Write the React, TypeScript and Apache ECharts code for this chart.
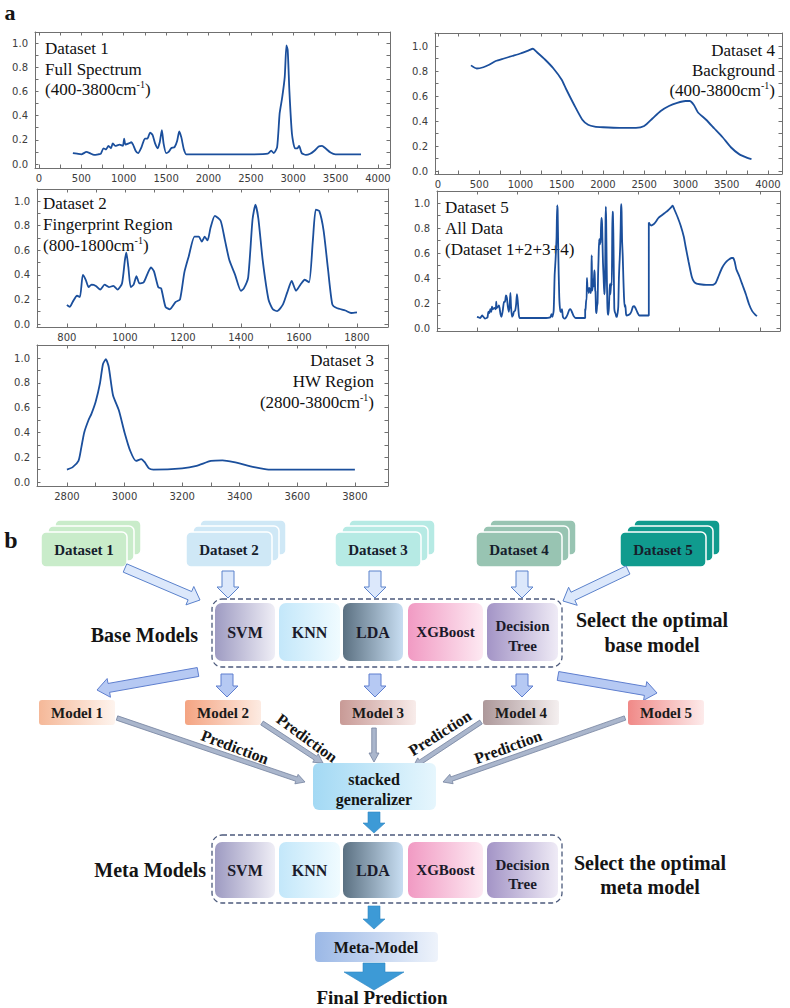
import React, { useEffect, useRef } from "react";
import * as echarts from "echarts";

// ---------------- DATA ----------------
const dataset1: [number, number][] = [
  [400, 0.09], [450, 0.085], [500, 0.08], [560, 0.1], [600, 0.09], [650, 0.075], [700, 0.08], [730, 0.085],
  [760, 0.13], [790, 0.12], [820, 0.15], [850, 0.13], [870, 0.17], [900, 0.15], [950, 0.16], [990, 0.15],
  [1005, 0.21], [1020, 0.16], [1060, 0.17], [1090, 0.18], [1110, 0.16], [1140, 0.11], [1170, 0.09], [1210, 0.14],
  [1250, 0.21], [1280, 0.21], [1310, 0.26], [1340, 0.24], [1370, 0.17], [1400, 0.13], [1425, 0.18], [1450, 0.28],
  [1470, 0.17], [1500, 0.09], [1530, 0.1], [1560, 0.13], [1600, 0.14], [1630, 0.19], [1655, 0.27], [1680, 0.22],
  [1710, 0.12], [1740, 0.08], [2000, 0.08], [2500, 0.08], [2700, 0.085], [2740, 0.11], [2770, 0.09], [2810, 0.14],
  [2840, 0.42], [2870, 0.55], [2900, 0.72], [2920, 0.98], [2935, 0.94], [2955, 0.6], [2985, 0.25], [3020, 0.13],
  [3050, 0.13], [3070, 0.15], [3100, 0.09], [3150, 0.075], [3200, 0.085], [3250, 0.11], [3300, 0.145], [3340, 0.15],
  [3380, 0.13], [3440, 0.095], [3500, 0.08], [3800, 0.08],
];

const dataset2: [number, number][] = [
  [800, 0.155], [810, 0.14], [820, 0.18], [835, 0.23], [845, 0.22], [855, 0.4], [865, 0.36], [875, 0.3],
  [885, 0.32], [900, 0.31], [915, 0.28], [930, 0.32], [945, 0.3], [960, 0.31], [975, 0.28], [990, 0.33],
  [1000, 0.52], [1005, 0.58], [1012, 0.46], [1020, 0.3], [1030, 0.32], [1040, 0.39], [1050, 0.33], [1065, 0.34],
  [1080, 0.42], [1090, 0.46], [1100, 0.43], [1115, 0.3], [1125, 0.29], [1140, 0.14], [1155, 0.12], [1175, 0.18],
  [1190, 0.2], [1205, 0.42], [1220, 0.55], [1240, 0.71], [1255, 0.71], [1265, 0.67], [1275, 0.71], [1285, 0.68],
  [1295, 0.78], [1310, 0.88], [1330, 0.84], [1345, 0.68], [1360, 0.52], [1380, 0.4], [1400, 0.27], [1410, 0.29],
  [1425, 0.38], [1440, 0.85], [1450, 0.97], [1460, 0.86], [1475, 0.52], [1495, 0.2], [1510, 0.12], [1525, 0.105],
  [1545, 0.16], [1560, 0.26], [1575, 0.35], [1590, 0.27], [1605, 0.32], [1620, 0.36], [1635, 0.34], [1648, 0.68],
  [1658, 0.93], [1670, 0.92], [1685, 0.76], [1700, 0.45], [1715, 0.16], [1730, 0.13], [1760, 0.11], [1780, 0.09],
  [1800, 0.095],
];

const dataset3: [number, number][] = [
  [2800, 0.1], [2820, 0.12], [2840, 0.17], [2850, 0.28], [2860, 0.4], [2875, 0.5], [2885, 0.55], [2900, 0.65],
  [2915, 0.8], [2925, 0.95], [2935, 0.99], [2945, 0.93], [2960, 0.7], [2980, 0.58], [3000, 0.4], [3020, 0.25],
  [3040, 0.17], [3058, 0.185], [3070, 0.16], [3085, 0.11], [3100, 0.1], [3200, 0.11], [3250, 0.13], [3300, 0.17],
  [3340, 0.175], [3380, 0.16], [3450, 0.12], [3500, 0.1], [3800, 0.1],
];

const dataset4: [number, number][] = [
  [400, 0.845], [470, 0.82], [550, 0.83], [620, 0.85], [700, 0.88], [800, 0.9], [900, 0.92], [1000, 0.94],
  [1100, 0.965], [1150, 0.978], [1200, 0.95], [1300, 0.89], [1400, 0.82], [1500, 0.73], [1550, 0.66], [1650, 0.53],
  [1750, 0.41], [1820, 0.37], [1900, 0.355], [2000, 0.35], [2200, 0.345], [2400, 0.345], [2500, 0.36], [2600, 0.42],
  [2700, 0.48], [2800, 0.52], [2900, 0.545], [3000, 0.56], [3050, 0.56], [3100, 0.53], [3150, 0.47], [3250, 0.41],
  [3350, 0.34], [3450, 0.27], [3550, 0.19], [3650, 0.135], [3750, 0.105], [3800, 0.095],
];

// Dataset 5 = Dataset 1 + 2 + 3 + 4 joined end to end (index axis)
const dataset5: [number, number][] = [
  ...dataset1.map(([x, y]) => [x - 400, y] as [number, number]),
  ...dataset2.map(([x, y]) => [x - 800 + 3400, y] as [number, number]),
  ...dataset3.map(([x, y]) => [x - 2800 + 4400, y] as [number, number]),
  ...dataset4.map(([x, y]) => [x - 400 + 5400, y] as [number, number]),
];

// tick labels / tick positions
const xLabelsFull = [0, 500, 1000, 1500, 2000, 2500, 3000, 3500, 4000];
const xTicksFull = [0, 250, 500, 750, 1000, 1250, 1500, 1750, 2000, 2250, 2500, 2750, 3000, 3250, 3500, 3750, 4000];
const xLabelsFinger = [800, 1000, 1200, 1400, 1600, 1800];
const xTicksFinger = [800, 900, 1000, 1100, 1200, 1300, 1400, 1500, 1600, 1700, 1800];
const xLabelsHW = [2800, 3000, 3200, 3400, 3600, 3800];
const xTicksHW = [2800, 2900, 3000, 3100, 3200, 3300, 3400, 3500, 3600, 3700, 3800];
const xTicksAll = [-1270, 0, 1270, 2540, 3810, 5080, 6350, 7620, 8890];
const yLabels = [0, 0.2, 0.4, 0.6, 0.8, 1.0];
const yTicks = [0, 0.1, 0.2, 0.3, 0.4, 0.5, 0.6, 0.7, 0.8, 0.9, 1.0];

// panel b texts
const datasetNames = ["Dataset 1", "Dataset 2", "Dataset 3", "Dataset 4", "Dataset 5"];
const modelNames = ["Model 1", "Model 2", "Model 3", "Model 4", "Model 5"];
const learnerNames = ["SVM", "KNN", "LDA", "XGBoost", "Decision\nTree"];

// ---------------- STYLE / LAYOUT ----------------
const SERIF = "'Liberation Serif', 'Times New Roman', serif";
const AXC = "#707070";
const LINEC = "#1b4f9c";

const panels = [
  { data: dataset1, left: 35, top: 32, width: 355, height: 136, x: [-47, 4142], y: [-0.033, 1.091], xl: xLabelsFull, xt: xTicksFull, showX: true },
  { data: dataset2, left: 37, top: 189, width: 351, height: 138, x: [697, 1907], y: [-0.024, 1.098], xl: xLabelsFinger, xt: xTicksFinger, showX: true },
  { data: dataset3, left: 37, top: 345, width: 351, height: 141, x: [2696, 3915], y: [-0.032, 1.105], xl: xLabelsHW, xt: xTicksHW, showX: true },
  { data: dataset4, left: 435, top: 33, width: 347, height: 141, x: [-36, 4170], y: [-0.024, 1.104], xl: xLabelsFull, xt: xTicksFull, showX: true },
  { data: dataset5, left: 437, top: 191, width: 343, height: 140, x: [-1257, 9523], y: [-0.024, 1.096], xl: [] as number[], xt: xTicksAll, showX: false },
];

function buildAxes() {
  const xAxis: any[] = [];
  const yAxis: any[] = [];
  panels.forEach((p, i) => {
    const line = { show: true, onZero: false, lineStyle: { color: AXC, width: 1 } };
    const tick = (vals: number[]) => ({ show: true, inside: true, length: 3.5, customValues: vals, lineStyle: { color: AXC, width: 1 } });
    xAxis.push({
      type: "value", gridIndex: i, position: "bottom", min: p.x[0], max: p.x[1],
      axisLine: line, axisTick: tick(p.xt), splitLine: { show: false },
      axisLabel: { show: p.showX, customValues: p.xl, color: "#3c3c3c", fontSize: 10, fontFamily: "DejaVu Sans", margin: 5, formatter: (v: number) => String(v) },
    });
    xAxis.push({
      type: "value", gridIndex: i, position: "top", min: p.x[0], max: p.x[1],
      axisLine: line, axisTick: tick(p.xt), splitLine: { show: false }, axisLabel: { show: false },
    });
    yAxis.push({
      type: "value", gridIndex: i, position: "left", min: p.y[0], max: p.y[1],
      axisLine: line, axisTick: tick(yTicks), splitLine: { show: false },
      axisLabel: { customValues: yLabels, color: "#3c3c3c", fontSize: 10, fontFamily: "DejaVu Sans", margin: 7, formatter: (v: number) => Number(v).toFixed(1) },
    });
    yAxis.push({
      type: "value", gridIndex: i, position: "right", min: p.y[0], max: p.y[1],
      axisLine: line, axisTick: tick(yTicks), splitLine: { show: false }, axisLabel: { show: false },
    });
  });
  return { xAxis, yAxis };
}

function arrowPts(x1: number, y1: number, x2: number, y2: number, sw: number, hw: number, hl: number) {
  const dx = x2 - x1, dy = y2 - y1;
  const L = Math.hypot(dx, dy);
  const ux = dx / L, uy = dy / L;
  const px = -uy, py = ux;
  const bx = x2 - ux * hl, by = y2 - uy * hl;
  return [
    [x1 + (px * sw) / 2, y1 + (py * sw) / 2],
    [bx + (px * sw) / 2, by + (py * sw) / 2],
    [bx + (px * hw) / 2, by + (py * hw) / 2],
    [x2, y2],
    [bx - (px * hw) / 2, by - (py * hw) / 2],
    [bx - (px * sw) / 2, by - (py * sw) / 2],
    [x1 - (px * sw) / 2, y1 - (py * sw) / 2],
  ];
}

function arrow(x1: number, y1: number, x2: number, y2: number, sw: number, hw: number, hl: number, fill: string, stroke: string, lw = 1) {
  return { type: "polygon", silent: true, shape: { points: arrowPts(x1, y1, x2, y2, sw, hw, hl) }, style: { fill, stroke, lineWidth: lw } };
}

function grad(a: string, b: string) {
  return new echarts.graphic.LinearGradient(0, 0, 1, 0, [
    { offset: 0, color: a },
    { offset: 1, color: b },
  ]);
}

function txt(x: number, y: number, text: string, size: number, o: any = {}) {
  return {
    type: "text", x, y, silent: true, rotation: o.rot || 0,
    style: {
      text, fontSize: size, fontFamily: SERIF, fontWeight: o.weight || "bold", fill: o.fill || "#141414",
      align: o.align || "center", verticalAlign: "middle", textAlign: o.align || "center", textVerticalAlign: "middle",
      lineHeight: o.lh || undefined,
    },
  };
}

function supTxt(x: number, y: number, before: string, sup: string, after: string, align: string) {
  return {
    type: "text", x, y, silent: true,
    style: {
      text: `{a|${before}}{s|${sup}}{a|${after}}`,
      align, textAlign: align, verticalAlign: "middle", textVerticalAlign: "middle",
      rich: {
        a: { fontSize: 17, fontFamily: SERIF, fill: "#111", lineHeight: 19 },
        s: { fontSize: 10, fontFamily: SERIF, fill: "#111", lineHeight: 10, verticalAlign: "top" },
      },
    },
  };
}

function buildGraphics() {
  const els: any[] = [];
  // panel labels
  els.push(txt(10, 12, "a", 22));
  els.push(txt(11, 540, "b", 24));

  // panel a annotations
  els.push(txt(45, 48, "Dataset 1", 17, { weight: "normal", align: "left", fill: "#111" }));
  els.push(txt(45, 69, "Full Spectrum", 17, { weight: "normal", align: "left", fill: "#111" }));
  els.push(supTxt(45, 89, "(400-3800cm", "-1", ")", "left"));

  els.push(txt(43, 203, "Dataset 2", 17, { weight: "normal", align: "left", fill: "#111" }));
  els.push(txt(43, 224, "Fingerprint Region", 17, { weight: "normal", align: "left", fill: "#111" }));
  els.push(supTxt(43, 245, "(800-1800cm", "-1", ")", "left"));

  els.push(txt(374, 360, "Dataset 3", 17, { weight: "normal", align: "right", fill: "#111" }));
  els.push(txt(374, 381, "HW Region", 17, { weight: "normal", align: "right", fill: "#111" }));
  els.push(supTxt(374, 402, "(2800-3800cm", "-1", ")", "right"));

  els.push(txt(775, 50, "Dataset 4", 17, { weight: "normal", align: "right", fill: "#111" }));
  els.push(txt(775, 70, "Background", 17, { weight: "normal", align: "right", fill: "#111" }));
  els.push(supTxt(775, 90, "(400-3800cm", "-1", ")", "right"));

  els.push(txt(445, 207, "Dataset 5", 17, { weight: "normal", align: "left", fill: "#111" }));
  els.push(txt(445, 228, "All Data", 17, { weight: "normal", align: "left", fill: "#111" }));
  els.push(txt(445, 249, "(Dataset 1+2+3+4)", 17, { weight: "normal", align: "left", fill: "#111" }));

  // ---------- panel b ----------
  const dsX = [41, 186, 335, 476, 620];
  const dsColors = ["#c9ecca", "#cfe8f6", "#b6eae4", "#98c4b2", "#109b8e"];
  dsX.forEach((fx, i) => {
    for (let k = 2; k >= 0; k--) {
      els.push({
        type: "rect", silent: true,
        shape: { x: fx + 7 * k, y: 532 - 6 * k, width: 86, height: 35, r: 5 },
        style: { fill: dsColors[i], stroke: "#ffffff", lineWidth: 1.5 },
      });
    }
    els.push(txt(fx + 43, 550, datasetNames[i], 15, { fill: "#16202c" }));
  });

  // arrows datasets -> base models
  const upF = "#dce8fb", upS = "#5b82cc";
  els.push(arrow(125, 568, 200, 600, 9, 20, 11, upF, upS));
  els.push(arrow(228, 571, 228, 598, 12, 22, 11, upF, upS));
  els.push(arrow(375, 571, 375, 598, 12, 22, 11, upF, upS));
  els.push(arrow(522, 571, 522, 598, 12, 22, 11, upF, upS));
  els.push(arrow(628, 570, 563, 601, 9, 20, 11, upF, upS));

  // learner boxes (base + meta)
  const lx = [215, 279, 343, 408, 487];
  const lw = [60, 61, 60, 75, 71];
  const lg: [string, string][] = [
    ["#9e9bc2", "#efeef6"],
    ["#c3e7fa", "#f0fbff"],
    ["#5b7081", "#c8def2"],
    ["#f19ac3", "#fde9f2"],
    ["#a394c6", "#efebf6"],
  ];
  const learnerRow = (top: number, h: number, dashTop: number, dashH: number, dTop: number, dBot: number) => {
    els.push({
      type: "rect", silent: true,
      shape: { x: 212, y: dashTop, width: 350, height: dashH, r: 10 },
      style: { fill: "transparent", stroke: "#4c5a7c", lineWidth: 1.3, lineDash: [5, 3] },
    });
    lx.forEach((x, j) => {
      els.push({
        type: "rect", silent: true,
        shape: { x, y: top, width: lw[j], height: h, r: 7 },
        style: { fill: grad(lg[j][0], lg[j][1]) },
      });
      const cx = x + lw[j] / 2;
      if (j === 4) {
        els.push(txt(cx, dTop, "Decision", 15, { fill: "#1a1a2a" }));
        els.push(txt(cx, dBot, "Tree", 15, { fill: "#1a1a2a" }));
      } else {
        els.push(txt(cx, top + h / 2, learnerNames[j], j === 3 ? 15 : 16, { fill: "#1a1a2a" }));
      }
    });
  };
  learnerRow(603, 58, 599, 68, 626, 646);
  els.push(txt(198, 635, "Base Models", 20, { align: "right" }));
  els.push(txt(652, 620, "Select the optimal", 20));
  els.push(txt(652, 645, "base model", 20));

  // arrows base -> models
  const loF = "#b6c9f3", loS = "#5f7fcf";
  els.push(arrow(198, 672, 97, 690, 9, 19, 12, loF, loS));
  els.push(arrow(227, 674, 227, 697, 12, 22, 11, loF, loS));
  els.push(arrow(375, 674, 375, 697, 12, 22, 11, loF, loS));
  els.push(arrow(522, 674, 522, 697, 12, 22, 11, loF, loS));
  els.push(arrow(558, 676, 657, 693, 9, 19, 12, loF, loS));

  // model boxes
  const mX = [39, 185, 340, 483, 628];
  const mG: [string, string][] = [
    ["#f5b898", "#fef4ee"],
    ["#f4a482", "#fdebe2"],
    ["#c89a96", "#f8ecea"],
    ["#ad989a", "#f4efef"],
    ["#f08987", "#fdebeb"],
  ];
  mX.forEach((x, i) => {
    els.push({ type: "rect", silent: true, shape: { x, y: 700, width: 76, height: 25, r: 3 }, style: { fill: grad(mG[i][0], mG[i][1]) } });
    els.push(txt(x + 38, 713, modelNames[i], 15, { fill: "#1a1a1a" }));
  });

  // prediction arrows
  const pF = "#aab6cc", pS = "#74829e";
  els.push(arrow(117, 718, 305, 782, 4.5, 10, 9, pF, pS, 0.8));
  els.push(arrow(262, 723, 323, 763, 4.5, 10, 9, pF, pS, 0.8));
  els.push(arrow(374, 728, 374, 762, 4.5, 10, 9, pF, pS, 0.8));
  els.push(arrow(481, 722, 413, 767, 4.5, 10, 9, pF, pS, 0.8));
  els.push(arrow(625, 718, 443, 782, 4.5, 10, 9, pF, pS, 0.8));
  els.push(txt(235, 747, "Prediction", 16, { rot: -0.36 }));
  els.push(txt(307, 738, "Prediction", 16, { rot: -0.63 }));
  els.push(txt(440, 733, "Prediction", 16, { rot: 0.56 }));
  els.push(txt(508, 747, "Prediction", 16, { rot: 0.35 }));

  // stacked generalizer
  els.push({ type: "rect", silent: true, shape: { x: 313, y: 763, width: 123, height: 47, r: 6 }, style: { fill: grad("#a3d9f4", "#e6f6fd") } });
  els.push(txt(374, 779, "stacked", 16));
  els.push(txt(374, 799, "generalizer", 16));

  const bF = "#3d9ad6", bS = "#2f86c2";
  els.push(arrow(374, 812, 374, 833, 12, 22, 10, bF, bS, 0.6));

  // meta models row
  learnerRow(842, 56, 835, 68, 865, 884);
  els.push(txt(206, 870, "Meta Models", 20, { align: "right" }));
  els.push(txt(650, 863, "Select the optimal", 20));
  els.push(txt(650, 887, "meta model", 20));

  els.push(arrow(374, 906, 374, 929, 12, 22, 10, bF, bS, 0.6));
  els.push({ type: "rect", silent: true, shape: { x: 315, y: 932, width: 123, height: 30, r: 4 }, style: { fill: grad("#9bb8e6", "#eef3fb") } });
  els.push(txt(376, 947, "Meta-Model", 16));
  els.push(arrow(374, 963, 374, 990, 22, 60, 18, bF, bS, 0.6));
  els.push(txt(382, 997, "Final Prediction", 19));
  return els;
}

export default function App() {
  const ref = useRef<HTMLDivElement>(null);
  useEffect(() => {
    if (!ref.current) return;
    const chart = echarts.init(ref.current, null, { renderer: "svg", width: 790, height: 1008 });
    const { xAxis, yAxis } = buildAxes();
    const option: any = {
      animation: false,
      backgroundColor: "#ffffff",
      grid: panels.map((p) => ({ left: p.left, top: p.top, width: p.width, height: p.height, containLabel: false, outerBoundsMode: "none" })),
      xAxis,
      yAxis,
      series: panels.map((p, i) => ({
        type: "line",
        xAxisIndex: 2 * i,
        yAxisIndex: 2 * i,
        data: p.data,
        showSymbol: false,
        symbol: "none",
        smooth: 0.2,
        silent: true,
        lineStyle: { color: LINEC, width: 1.8 },
      })),
      graphic: { elements: buildGraphics() },
    };
    chart.setOption(option);
    return () => chart.dispose();
  }, []);
  return <div ref={ref} style={{ position: "fixed", left: 0, top: 0, width: 790, height: 1008, background: "#fff" }} />;
}
